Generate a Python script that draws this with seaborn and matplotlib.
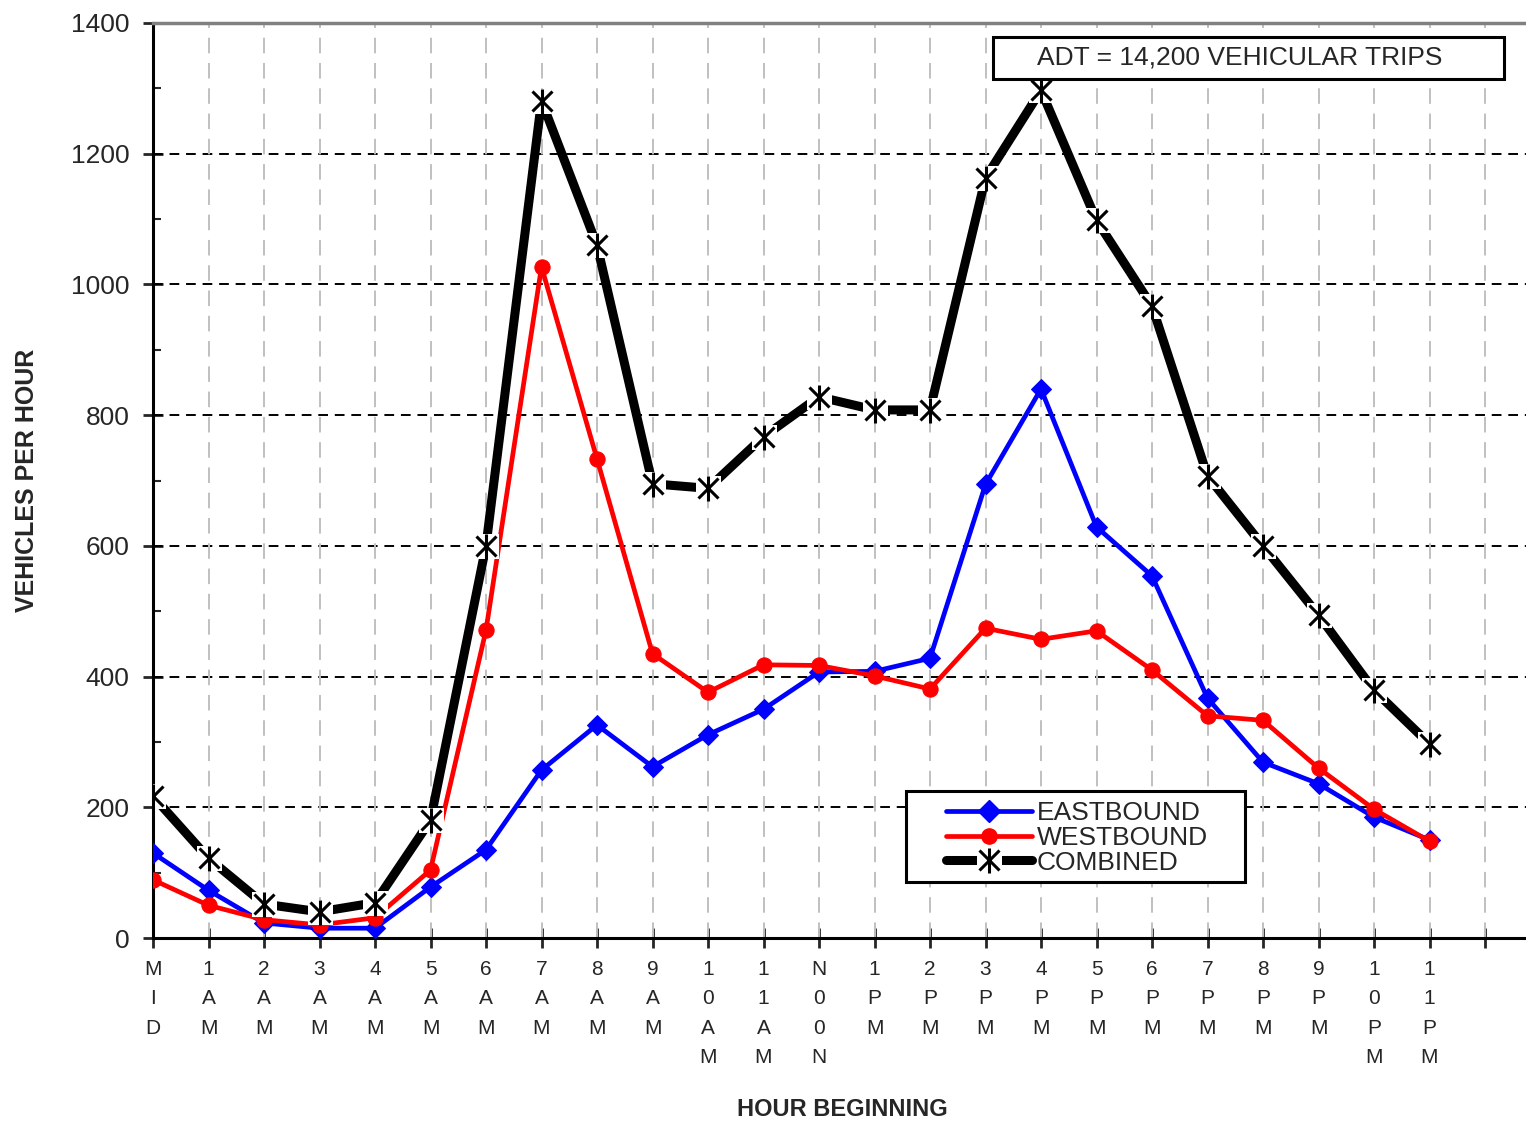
import numpy as np
import pandas as pd
import matplotlib
matplotlib.use("Agg")
import matplotlib.pyplot as plt
from matplotlib.patches import Rectangle
from matplotlib.lines import Line2D
import seaborn as sns

hours = list(range(24))
hour_labels = ["M\nI\nD", "1\nA\nM", "2\nA\nM", "3\nA\nM", "4\nA\nM", "5\nA\nM",
               "6\nA\nM", "7\nA\nM", "8\nA\nM", "9\nA\nM", "1\n0\nA\nM", "1\n1\nA\nM",
               "N\n0\n0\nN", "1\nP\nM", "2\nP\nM", "3\nP\nM", "4\nP\nM", "5\nP\nM",
               "6\nP\nM", "7\nP\nM", "8\nP\nM", "9\nP\nM", "1\n0\nP\nM", "1\n1\nP\nM"]
eastbound = [130, 73, 23, 15, 15, 78, 135, 257, 326, 262, 311, 350,
             407, 408, 428, 694, 840, 629, 554, 367, 269, 236, 185, 150]
westbound = [89, 50, 28, 20, 31, 104, 471, 1027, 733, 435, 376, 418,
             417, 401, 381, 474, 457, 470, 410, 340, 333, 260, 197, 148]
combined = [217, 122, 52, 40, 54, 180, 600, 1281, 1060, 695, 688, 767,
            828, 808, 808, 1163, 1297, 1098, 967, 707, 600, 494, 379, 297]
series_names = ["EASTBOUND", "WESTBOUND", "COMBINED"]

df = pd.DataFrame({"hour": hours, "EASTBOUND": eastbound,
                   "WESTBOUND": westbound, "COMBINED": combined})

sns.set_style("white")
plt.rcParams['font.family'] = ['Liberation Sans', 'DejaVu Sans']

W, H = 1526, 1123
fig = plt.figure(figsize=(W / 100, H / 100), dpi=100)
ax = fig.add_axes([153 / W, 1 - 938 / H, (W - 153) / W, (938 - 23) / H])

# grid
for yv in range(200, 1400, 200):
    ax.axhline(yv, color="black", lw=1.4, ls=(0, (5, 3.5)), zorder=1)
for xv in range(1, 25):
    ax.axvline(xv, color="#c0c0c0", lw=1.4, ls=(0, (8, 5)), zorder=1)

# series
sns.lineplot(data=df, x="hour", y="EASTBOUND", ax=ax, color="#0000FF", lw=3.4,
             marker="D", markersize=10.5, markeredgecolor="#0000FF", zorder=3)
sns.lineplot(data=df, x="hour", y="WESTBOUND", ax=ax, color="#FF0000", lw=3.4,
             marker="o", markersize=11, markeredgecolor="#FF0000", zorder=4)
sns.lineplot(data=df, x="hour", y="COMBINED", ax=ax, color="black", lw=6.5,
             zorder=5)
sns.lineplot(data=df, x="hour", y="COMBINED", ax=ax, color="white", lw=0,
             marker="s", markersize=18, markeredgewidth=0, markerfacecolor="white",
             markeredgecolor="white", zorder=6)
sns.lineplot(data=df, x="hour", y="COMBINED", ax=ax, color="black", lw=0,
             marker="x", markersize=14, markeredgewidth=2.2,
             markeredgecolor="black", zorder=7)
sns.lineplot(data=df, x="hour", y="COMBINED", ax=ax, color="black", lw=0,
             marker="|", markersize=18, markeredgewidth=2.2,
             markeredgecolor="black", zorder=7)

ax.set_xlim(0, (W - 153) / 55.5)
ax.set_ylim(0, 1400)
ax.set_xticks(list(range(25)))
ax.set_xticklabels(hour_labels + [""], fontsize=15, linespacing=1.68, va="top")
ax.set_yticks(range(0, 1401, 200))
ax.set_yticks(range(100, 1400, 200), minor=True)
ax.tick_params(axis="y", which="major", direction="inout", length=14, width=2,
               labelsize=19, pad=10, left=True)
ax.tick_params(axis="y", which="minor", direction="in", length=6, width=1.5, left=True)
ax.tick_params(axis="x", which="major", direction="inout", length=14, width=2,
               pad=9, bottom=True)

for s in ["left", "bottom"]:
    ax.spines[s].set_color("black")
    ax.spines[s].set_linewidth(2.2)
ax.spines["top"].set_color("#808080")
ax.spines["top"].set_linewidth(2.5)
ax.spines["right"].set_visible(False)

ax.set_xlabel("")
ax.set_ylabel("")
fig.text(27 / W, 1 - 480 / H, "VEHICLES PER HOUR", rotation=90, ha="center",
         va="center", fontsize=18, fontweight="bold")
fig.text(842 / W, 1 - 1110 / H, "HOUR BEGINNING", ha="center", va="center",
         fontsize=17, fontweight="bold")

# ADT box
fig.add_artist(Rectangle((993 / W, 1 - 79 / H), 511 / W, 42 / H,
                         transform=fig.transFigure, facecolor="white",
                         edgecolor="black", lw=2.2, zorder=10))
fig.text(1240 / W, 1 - 57 / H, "ADT = 14,200 VEHICULAR TRIPS", ha="center",
         va="center", fontsize=19, zorder=11)

# legend box + legend
fig.add_artist(Rectangle((906 / W, 1 - 882 / H), 339 / W, 91 / H,
                         transform=fig.transFigure, facecolor="white",
                         edgecolor="black", lw=2.2, zorder=19))
h_e = Line2D([], [], color="#0000FF", lw=3.4, marker="D", markersize=11)
h_w = Line2D([], [], color="#FF0000", lw=3.4, marker="o", markersize=11)
h_c = (Line2D([], [], color="black", lw=6.5),
       Line2D([], [], color="white", lw=0, marker="s", markersize=18,
              markeredgewidth=0, markerfacecolor="white"),
       Line2D([], [], color="black", lw=0, marker="x", markersize=14, markeredgewidth=2.2),
       Line2D([], [], color="black", lw=0, marker="|", markersize=18, markeredgewidth=2.2))
leg = fig.legend([h_e, h_w, h_c], series_names, loc="upper left",
                 bbox_to_anchor=(946 / W, 1 - 801 / H), bbox_transform=fig.transFigure,
                 fontsize=19, frameon=False, handlelength=3.25,
                 handletextpad=0.2, labelspacing=0.03, borderpad=0,
                 borderaxespad=0)
leg.set_zorder(20)

fig.savefig("out.png", dpi=100)
